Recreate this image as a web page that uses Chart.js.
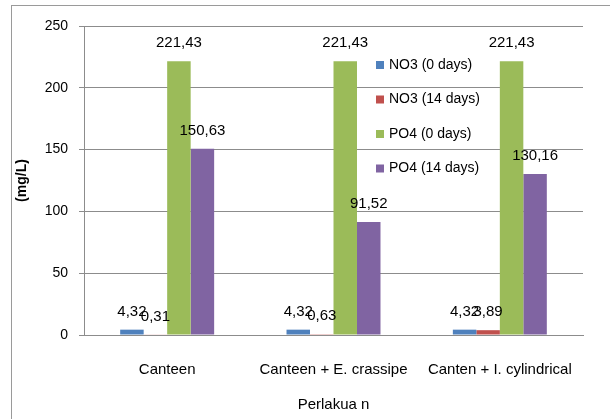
<!DOCTYPE html>
<html>
<head>
<meta charset="utf-8">
<script src="https://cdn.jsdelivr.net/npm/chart.js@4.4.1/dist/chart.umd.min.js"></script>
<style>
  html, body { margin: 0; padding: 0; background: #fff; }
  #wrap { position: relative; width: 610px; height: 419px; }
</style>
</head>
<body>
<div id="wrap"><canvas id="chart" width="610" height="419"></canvas></div>
<script>
const categories = ['Canteen', 'Canteen + E. crassipe', 'Canten + I. cylindrical'];
const seriesNames = ['NO3 (0 days)', 'NO3 (14 days)', 'PO4 (0 days)', 'PO4 (14 days)'];
const no3Day0 = [4.32, 4.32, 4.32];
const no3Day14 = [0.31, 0.63, 3.89];
const po4Day0 = [221.43, 221.43, 221.43];
const po4Day14 = [150.63, 91.52, 130.16];
const yTicks = [0, 50, 100, 150, 200, 250];

const colors = ['#4F81BD', '#C0504D', '#9BBB59', '#8064A2'];
const font = 'Liberation Sans';

function fmt(v) {
    return v.toFixed(2).replace('.', ',');
}

// frame, value labels and legend drawn on the canvas
const extras = {
    id: 'extras',
    beforeDraw(chart) {
        const c = chart.ctx;
        c.save();
        c.strokeStyle = '#9a9a9a';
        c.lineWidth = 1;
        c.strokeRect(11.5, 5.5, 700, 500);
        c.restore();
    },
    afterDatasetsDraw(chart) {
        const c = chart.ctx;
        c.save();
        c.font = '15px "' + font + '"';
        c.fillStyle = '#000';
        c.textAlign = 'center';
        c.textBaseline = 'middle';
        chart.data.datasets.forEach((ds, i) => {
            chart.getDatasetMeta(i).data.forEach((bar, j) => {
                c.fillText(fmt(ds.data[j]), bar.x, bar.y - 18);
            });
        });
        // legend
        c.font = '14px "' + font + '"';
        c.textAlign = 'left';
        chart.data.datasets.forEach((ds, i) => {
            const y = 65 + i * 34.5;
            c.fillStyle = ds.backgroundColor;
            c.fillRect(376, y - 4, 8, 8);
            c.fillStyle = '#000';
            c.fillText(ds.label, 389, y);
        });
        c.restore();
    }
};

const datasets = [no3Day0, no3Day14, po4Day0, po4Day14].map((d, i) => ({
    label: seriesNames[i],
    data: d,
    backgroundColor: colors[i],
    borderWidth: 0,
    categoryPercentage: 0.565,
    barPercentage: 1
}));

new Chart(document.getElementById('chart'), {
    type: 'bar',
    data: { labels: categories, datasets: datasets },
    plugins: [extras],
    options: {
        responsive: false,
        animation: false,
        layout: { padding: { left: 0, top: 26, right: 27, bottom: 0 } },
        plugins: {
            legend: { display: false },
            tooltip: { enabled: false }
        },
        scales: {
            x: {
                grid: { display: false },
                border: { display: true, color: '#8c8c8c' },
                ticks: { color: '#000', padding: 18, font: { family: font, size: 15 }, maxRotation: 0 },
                title: { display: true, text: 'Perlakua n', color: '#000', font: { family: font, size: 15 }, padding: { top: 4, bottom: 5 } },
                afterFit(scale) { scale.height = 84; }
            },
            y: {
                min: 0,
                max: 250,
                afterBuildTicks(scale) { scale.ticks = yTicks.map(v => ({ value: v })); },
                grid: { color: '#8c8c8c', tickLength: 5, tickColor: '#8c8c8c' },
                border: { display: true, color: '#8c8c8c' },
                ticks: { color: '#000', padding: 11, font: { family: font, size: 14 } },
                title: { display: true, text: '(mg/L)', color: '#000', font: { family: font, size: 14, weight: 'bold' }, padding: { top: 14, bottom: 0 } },
                afterFit(scale) { scale.width = 84; }
            }
        }
    }
});
</script>
</body>
</html>
